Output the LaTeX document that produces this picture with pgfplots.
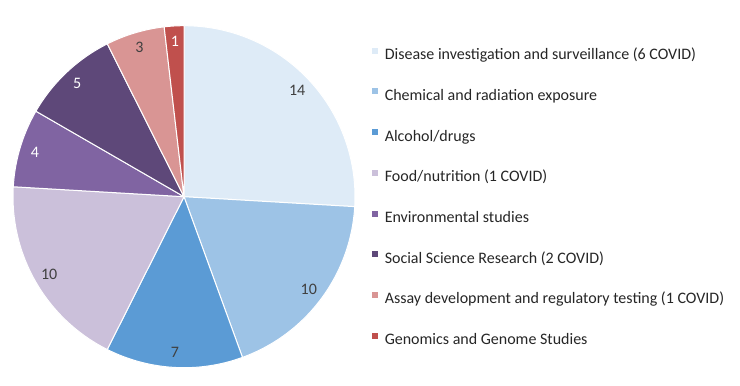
\documentclass[border=0pt]{standalone}
\usepackage{pgfplots}
\pgfplotsset{compat=1.18}
\usepackage{fontspec}
\setmainfont{Carlito}
\definecolor{c1}{HTML}{DEEBF7}
\definecolor{c2}{HTML}{9DC3E6}
\definecolor{c3}{HTML}{5B9BD5}
\definecolor{c4}{HTML}{CBC0DA}
\definecolor{c5}{HTML}{8064A2}
\definecolor{c6}{HTML}{5E4879}
\definecolor{c7}{HTML}{D99594}
\definecolor{c8}{HTML}{C0504D}
\definecolor{lbl}{HTML}{404040}
% data values
\def\va{14}\def\vb{10}\def\vc{7}\def\vd{10}\def\ve{4}\def\vf{5}\def\vg{3}\def\vh{1}
\pgfmathsetmacro{\tot}{\va+\vb+\vc+\vd+\ve+\vf+\vg+\vh}
\pgfmathsetmacro{\aa}{90}
\pgfmathsetmacro{\ab}{\aa-360*\va/\tot}
\pgfmathsetmacro{\ac}{\ab-360*\vb/\tot}
\pgfmathsetmacro{\ad}{\ac-360*\vc/\tot}
\pgfmathsetmacro{\ae}{\ad-360*\vd/\tot}
\pgfmathsetmacro{\af}{\ae-360*\ve/\tot}
\pgfmathsetmacro{\ag}{\af-360*\vf/\tot}
\pgfmathsetmacro{\ah}{\ag-360*\vg/\tot}
\pgfmathsetmacro{\ai}{\ah-360*\vh/\tot}
\begin{document}
\begin{tikzpicture}
\useasboundingbox (0,0) rectangle (740bp,386bp);
\begin{axis}[
  x=171bp, y=171bp, xmin=-1, xmax=1, ymin=-1, ymax=1,
  hide axis, clip=false, anchor=origin, at={(184bp,189.3bp)},
  legend cell align=left,
  legend image code/.code={\fill[#1,draw=none] (0bp,2bp) rectangle (6bp,8bp);},
  legend style={at={(axis cs:1.101,0.871)}, anchor=north west, draw=none, fill=none,
    inner sep=0pt, outer sep=0pt, row sep=25.7bp,
    font=\fontsize{16bp}{18bp}\selectfont, text=black!85,
    nodes={inner sep=0pt, text height=11bp, text depth=3bp},
    /tikz/every odd column/.append style={column sep=6.5bp}},
  every axis plot/.append style={draw=white, line width=1bp, samples=80, line join=round},
]
\addplot[fill=c1, domain=\ab:\aa, variable=\t] ({cos(\t)},{sin(\t)}) -- (axis cs:0,0) -- cycle;
\addlegendentry{Disease investigation and surveillance (6 COVID)}
\addplot[fill=c2, domain=\ac:\ab, variable=\t] ({cos(\t)},{sin(\t)}) -- (axis cs:0,0) -- cycle;
\addlegendentry{Chemical and radiation exposure}
\addplot[fill=c3, domain=\ad:\ac, variable=\t] ({cos(\t)},{sin(\t)}) -- (axis cs:0,0) -- cycle;
\addlegendentry{Alcohol/drugs}
\addplot[fill=c4, domain=\ae:\ad, variable=\t] ({cos(\t)},{sin(\t)}) -- (axis cs:0,0) -- cycle;
\addlegendentry{Food/nutrition (1 COVID)}
\addplot[fill=c5, domain=\af:\ae, variable=\t] ({cos(\t)},{sin(\t)}) -- (axis cs:0,0) -- cycle;
\addlegendentry{Environmental studies}
\addplot[fill=c6, domain=\ag:\af, variable=\t] ({cos(\t)},{sin(\t)}) -- (axis cs:0,0) -- cycle;
\addlegendentry{Social Science Research (2 COVID)}
\addplot[fill=c7, domain=\ah:\ag, variable=\t] ({cos(\t)},{sin(\t)}) -- (axis cs:0,0) -- cycle;
\addlegendentry{Assay development and regulatory testing (1 COVID)}
\addplot[fill=c8, domain=\ai:\ah, variable=\t] ({cos(\t)},{sin(\t)}) -- (axis cs:0,0) -- cycle;
\addlegendentry{Genomics and Genome Studies}
\tikzset{lab/.style={font=\fontsize{16bp}{18bp}\selectfont, inner sep=0pt}}
\node[lab, text=lbl] at (axis cs:{0.91*cos((\aa+\ab)/2)},{0.91*sin((\aa+\ab)/2)}) {\va};
\node[lab, text=lbl] at (axis cs:{0.91*cos((\ab+\ac)/2)},{0.91*sin((\ab+\ac)/2)}) {\vb};
\node[lab, text=lbl] at (axis cs:{0.91*cos((\ac+\ad)/2)},{0.91*sin((\ac+\ad)/2)}) {\vc};
\node[lab, text=lbl] at (axis cs:{0.91*cos((\ad+\ae)/2)},{0.91*sin((\ad+\ae)/2)}) {\vd};
\node[lab, text=white] at (axis cs:{0.91*cos((\ae+\af)/2)},{0.91*sin((\ae+\af)/2)}) {\ve};
\node[lab, text=white] at (axis cs:{0.91*cos((\af+\ag)/2)},{0.91*sin((\af+\ag)/2)}) {\vf};
\node[lab, text=lbl] at (axis cs:{0.91*cos((\ag+\ah)/2)},{0.91*sin((\ag+\ah)/2)}) {\vg};
\node[lab, text=white] at (axis cs:{0.91*cos((\ah+\ai)/2)},{0.91*sin((\ah+\ai)/2)}) {\vh};
\end{axis}
\end{tikzpicture}
\end{document}
